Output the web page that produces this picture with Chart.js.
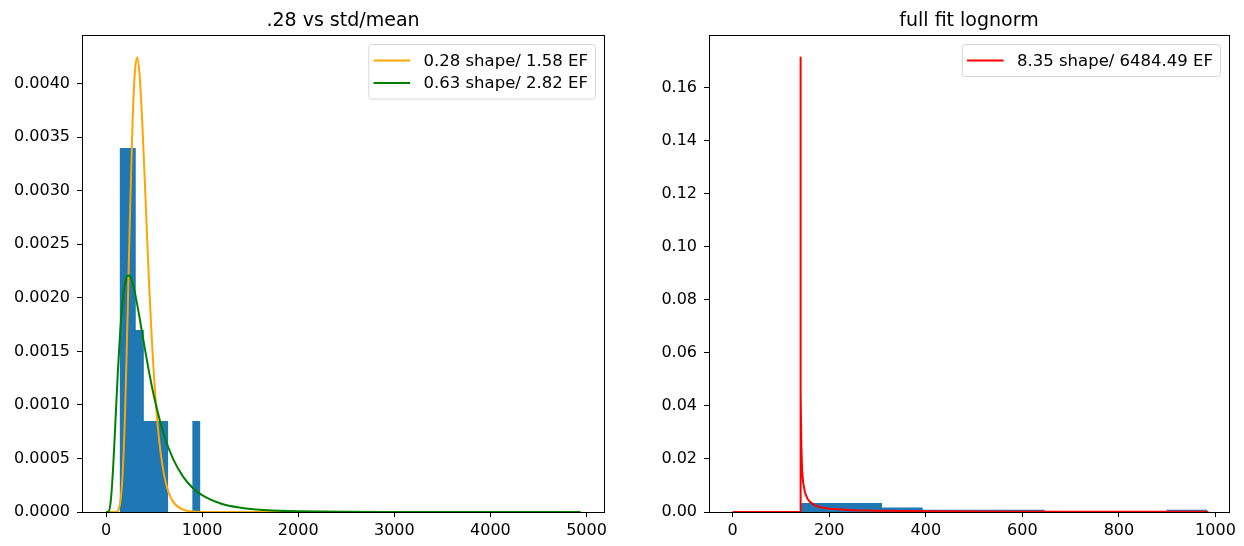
<!DOCTYPE html>
<html>
<head>
<meta charset="utf-8">
<title>lognorm fits</title>
<script src="https://cdn.jsdelivr.net/npm/chart.js@4/dist/chart.umd.min.js"></script>
<style>
  body { margin: 0; background: #fff; }
  #wrap { position: relative; width: 1244px; height: 546px; }
  #left, #right { position: absolute; top: 0; }
  #left { left: 0; }
  #right { left: 622px; }
</style>
</head>
<body>
<div id="wrap">
  <canvas id="left" width="622" height="546"></canvas>
  <canvas id="right" width="622" height="546"></canvas>
</div>
<script>
// titles / legend labels
const leftTitle = '.28 vs std/mean';
const rightTitle = 'full fit lognorm';
const orangeLabel = '0.28 shape/ 1.58 EF';
const greenLabel = '0.63 shape/ 2.82 EF';
const redLabel = '8.35 shape/ 6484.49 EF';

// histogram (same sample in both panels, 10 bins, density)
const binEdges = [141, 225.2, 309.3, 393.5, 477.6, 561.8, 646, 730.1, 814.3, 898.4, 982.6];
const histDensity = [0.0034, 0.0034, 0.0017, 0.00085, 0.00085, 0.00085, 0, 0, 0, 0.00085];

// left panel curves
const orangeX = [0, 100, 125, 150, 175, 200, 225, 250, 275, 300, 325, 350, 375, 400, 425, 450, 475, 500, 550, 600, 650, 700, 800, 900, 1000, 1500, 2000, 3000, 4000, 4937];
const orangeY = [0, 0.0000007, 0.0000137, 0.000101, 0.00039, 0.000987, 0.001853, 0.002801, 0.003607, 0.004104, 0.004244, 0.00407, 0.003676, 0.003164, 0.002617, 0.002097, 0.001636, 0.00125, 0.000692, 0.000365, 0.000186, 0.0000927, 0.0000221, 0.0000052, 0.000001, 0, 0, 0, 0, 0];
const greenX = [0, 25, 50, 75, 100, 125, 150, 175, 200, 225, 250, 275, 300, 350, 400, 450, 500, 600, 700, 800, 900, 1000, 1200, 1400, 1600, 1800, 2000, 2500, 3000, 4000, 4937];
const greenY = [0, 0.000004, 0.000109, 0.00043, 0.000885, 0.001342, 0.001719, 0.001985, 0.002143, 0.002208, 0.002201, 0.002144, 0.002051, 0.001809, 0.001546, 0.001297, 0.001076, 0.000729, 0.000491, 0.000333, 0.000227, 0.000157, 0.0000773, 0.0000398, 0.0000213, 0.0000119, 0.0000068, 0.0000019, 0.0000006, 0.0000001, 0];

// right panel curve
const redX = [0, 139.6, 140.3, 141.2, 142.3, 143.8, 146, 150, 155, 160, 170, 185, 200, 250, 300, 400, 500, 700, 985];
const redY = [0, 0, 0.1713, 0.045, 0.025, 0.016, 0.011, 0.0072, 0.005, 0.0038, 0.0025, 0.0017, 0.0012, 0.0007, 0.0005, 0.0003, 0.0002, 0.00012, 0.00008];

// ticks
const leftXTicks = [0, 1000, 2000, 3000, 4000, 5000];
const leftYTicks = [0, 0.0005, 0.001, 0.0015, 0.002, 0.0025, 0.003, 0.0035, 0.004];
const rightXTicks = [0, 200, 400, 600, 800, 1000];
const rightYTicks = [0, 0.02, 0.04, 0.06, 0.08, 0.1, 0.12, 0.14, 0.16];

const FONT = 'DejaVu Sans';
const tickFont = { family: FONT, size: 16 };

function points(xs, ys) {
  return xs.map((x, i) => ({ x: x, y: ys[i] }));
}

function histPoints(edges, vals) {
  let pts = vals.map((v, i) => ({ x: edges[i], y: v }));
  pts.push({ x: edges[edges.length - 1], y: vals[vals.length - 1] });
  return pts;
}

function histDataset() {
  return {
    data: histPoints(binEdges, histDensity),
    stepped: true,
    fill: 'origin',
    backgroundColor: '#1f77b4',
    borderColor: 'rgba(0,0,0,0)',
    borderWidth: 0,
    pointRadius: 0,
    order: 5
  };
}

function curveDataset(data, color, label, order, smooth) {
  return {
    label: label,
    data: data,
    borderColor: color,
    borderWidth: 2,
    pointRadius: 0,
    fill: false,
    borderJoinStyle: 'round',
    cubicInterpolationMode: smooth ? 'monotone' : 'default',
    tension: 0,
    order: order
  };
}

function roundRect(ctx, x, y, w, h, r) {
  ctx.beginPath();
  ctx.moveTo(x + r, y);
  ctx.lineTo(x + w - r, y);
  ctx.arcTo(x + w, y, x + w, y + r, r);
  ctx.lineTo(x + w, y + h - r);
  ctx.arcTo(x + w, y + h, x + w - r, y + h, r);
  ctx.lineTo(x + r, y + h);
  ctx.arcTo(x, y + h, x, y + h - r, r);
  ctx.lineTo(x, y + r);
  ctx.arcTo(x, y, x + r, y, r);
  ctx.closePath();
}

// box, title and legend drawn the matplotlib way (legend inside the axes)
const framePlugin = {
  id: 'frame',
  afterDatasetsDraw(chart, args, opts) {
    const ctx = chart.ctx;
    const a = chart.chartArea;
    ctx.save();
    ctx.strokeStyle = '#000';
    ctx.lineWidth = 1;
    ctx.strokeRect(Math.round(a.left) + 0.5, Math.round(a.top) + 0.5,
      Math.round(a.right - a.left), Math.round(a.bottom - a.top));

    ctx.fillStyle = '#000';
    ctx.font = '19px "' + FONT + '"';
    ctx.textAlign = 'center';
    ctx.textBaseline = 'alphabetic';
    ctx.fillText(opts.title, (a.left + a.right) / 2, 26);

    // legend
    const items = opts.items;
    ctx.font = '16.5px "' + FONT + '"';
    let textW = 0;
    items.forEach(it => { textW = Math.max(textW, ctx.measureText(it.label).width); });
    const right = a.right - 8.5;
    const top = a.top + 9.5;
    const textX = right - 7.5 - textW;
    const h2 = textX - 13.4;
    const h1 = h2 - 36.6;
    const left = h1 - 4.7;
    const bottom = top + 16 + (items.length - 1) * 22.6 + 16;
    roundRect(ctx, left, top, right - left, bottom - top, 3);
    ctx.fillStyle = 'rgba(255,255,255,0.8)';
    ctx.fill();
    ctx.strokeStyle = '#d5d5d5';
    ctx.stroke();
    ctx.textAlign = 'left';
    ctx.textBaseline = 'middle';
    items.forEach((it, i) => {
      const y = top + 16 + i * 22.6;
      ctx.strokeStyle = it.color;
      ctx.lineWidth = 2;
      ctx.beginPath();
      ctx.moveTo(h1, y);
      ctx.lineTo(h2, y);
      ctx.stroke();
      ctx.fillStyle = '#000';
      ctx.fillText(it.label, textX, y + 1);
    });
    ctx.restore();
  }
};

function axisOpts(min, max, ticks, fmt, isY, size) {
  return {
    type: 'linear',
    min: min,
    max: max,
    afterBuildTicks: axis => { axis.ticks = ticks.map(v => ({ value: v })); },
    afterFit: axis => { if (isY) axis.width = size; else axis.height = size; },
    grid: { display: true, drawOnChartArea: false, drawTicks: true, tickLength: 5, tickColor: '#000', color: '#000' },
    border: { display: true, color: '#000', width: 1 },
    ticks: {
      color: '#000',
      font: tickFont,
      padding: isY ? 7 : 4,
      autoSkip: false,
      maxRotation: 0,
      callback: v => fmt(v)
    }
  };
}

function makeChart(id, datasets, cfg) {
  return new Chart(document.getElementById(id), {
    type: 'line',
    data: { datasets: datasets },
    options: {
      responsive: false,
      animation: false,
      events: [],
      layout: { padding: { top: 35, right: cfg.padRight, left: 0, bottom: 0 } },
      plugins: {
        legend: { display: false },
        tooltip: { enabled: false },
        frame: { title: cfg.title, items: cfg.items }
      },
      scales: {
        x: axisOpts(cfg.xMin, cfg.xMax, cfg.xTicks, v => String(v), false, 34),
        y: axisOpts(0, cfg.yMax, cfg.yTicks, cfg.yFmt, true, cfg.yWidth)
      }
    },
    plugins: [framePlugin]
  });
}

makeChart('left', [
  curveDataset(points(greenX, greenY), 'green', greenLabel, 0, true),
  curveDataset(points(orangeX, orangeY), 'orange', orangeLabel, 1, true),
  histDataset()
], {
  title: leftTitle,
  items: [{ label: orangeLabel, color: 'orange' }, { label: greenLabel, color: 'green' }],
  xMin: -250, xMax: 5182, xTicks: leftXTicks,
  yMax: 0.004454, yTicks: leftYTicks, yFmt: v => v.toFixed(4),
  yWidth: 82, padRight: 18
});

makeChart('right', [
  curveDataset(points(redX, redY), 'red', redLabel, 0, false),
  histDataset()
], {
  title: rightTitle,
  items: [{ label: redLabel, color: 'red' }],
  xMin: -49, xMax: 1028, xTicks: rightXTicks,
  yMax: 0.1798, yTicks: rightYTicks, yFmt: v => v.toFixed(2),
  yWidth: 87, padRight: 15
});
</script>
</body>
</html>
